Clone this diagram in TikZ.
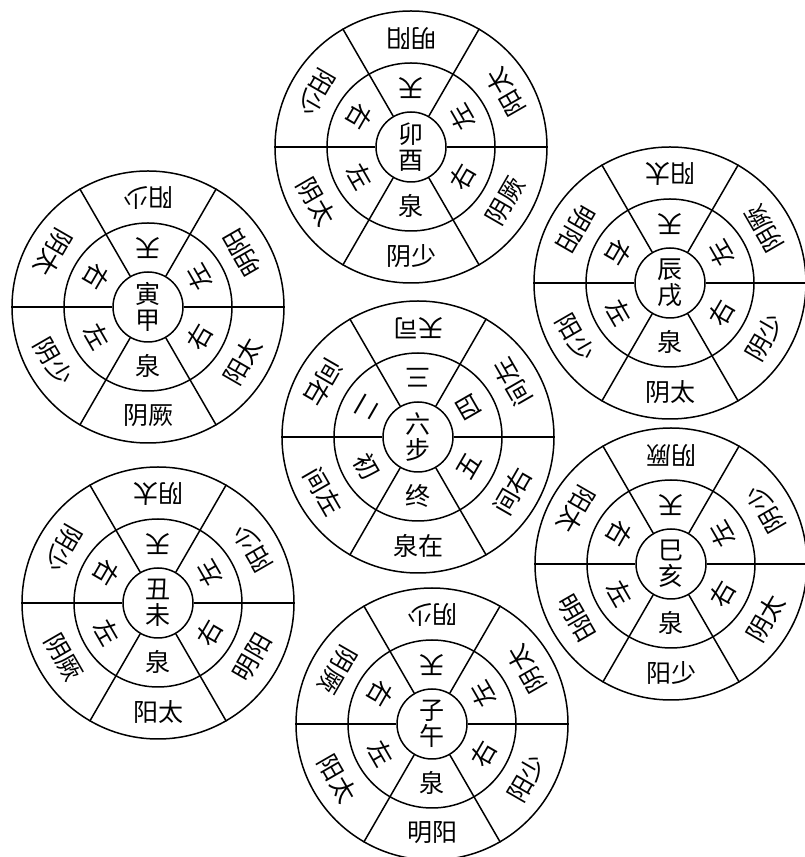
\documentclass[tikz,border=0pt]{standalone}
\usepackage{fontspec}
\newfontfamily\cjk{Noto Sans CJK SC}
\usepackage{tikz}

\tikzset{
  ring/.style={circle,draw,line width=1.5pt,inner sep=0pt},
  outring/.style={ring,minimum size=272pt},
  midring/.style={ring,minimum size=168pt},
  hub/.style={ring,minimum size=70pt,align=center,font=\cjk\fontsize{25}{26}\selectfont},
  spoke/.style={line width=1.5pt},
  qi/.style={inner sep=0pt,font=\cjk\fontsize{25}{25}\selectfont}
}

% inner ring of the year wheels, clockwise from the top
\def\sixpos{天,左,右,泉,左,右}
\def\steppos{三,四,五,终,初,二}

% name, centre, hub text, outer ring, inner ring
\newcommand\yunwheel[5]{%
  \node[outring] (#1-out) at (#2) {};
  \node[midring] (#1-mid) at (#2) {};
  \node[hub] (#1-hub) at (#2) {#3};
  \foreach \ang in {0,60,...,300}
    \draw[spoke] (#1-hub.\ang) -- (#1-out.\ang);
  \foreach \txt [count=\i] in {#4} {
    \pgfmathsetmacro\ang{150-60*\i}
    \node[qi,rotate=\ang+90] (#1-o\i) at ([shift={(\ang:109)}]#1-hub.center) {\txt};
  }
  \foreach \txt [count=\i] in #5 {
    \pgfmathsetmacro\ang{150-60*\i}
    \node[qi,rotate=\ang+90] (#1-i\i) at ([shift={(\ang:59)}]#1-hub.center) {\txt};
  }
}

\begin{document}
\begin{tikzpicture}[x=1pt,y=1pt]
\useasboundingbox (0,0) rectangle (805,857);
\yunwheel{liubu}{418,420}{六\\步}{天司,间左,间右,泉在,间左,间右}{\steppos}
\yunwheel{maoyou}{411,710}{卯\\酉}{明阳,阳太,阴厥,阴少,阴太,阳少}{\sixpos}
\yunwheel{yinjia}{148,550}{寅\\甲}{阳少,明阳,阳太,阴厥,阴少,阴太}{\sixpos}
\yunwheel{chenxu}{670,574}{辰\\戌}{阳太,阴厥,阴少,阴太,阳少,明阳}{\sixpos}
\yunwheel{chouwei}{158,254}{丑\\未}{阴太,阳少,明阳,阳太,阴厥,阴少}{\sixpos}
\yunwheel{sihai}{671,293}{巳\\亥}{阴厥,阴少,阴太,阳少,明阳,阳太}{\sixpos}
\yunwheel{ziwu}{432,133}{子\\午}{阴少,阴太,阳少,明阳,阳太,阴厥}{\sixpos}
\end{tikzpicture}
\end{document}
